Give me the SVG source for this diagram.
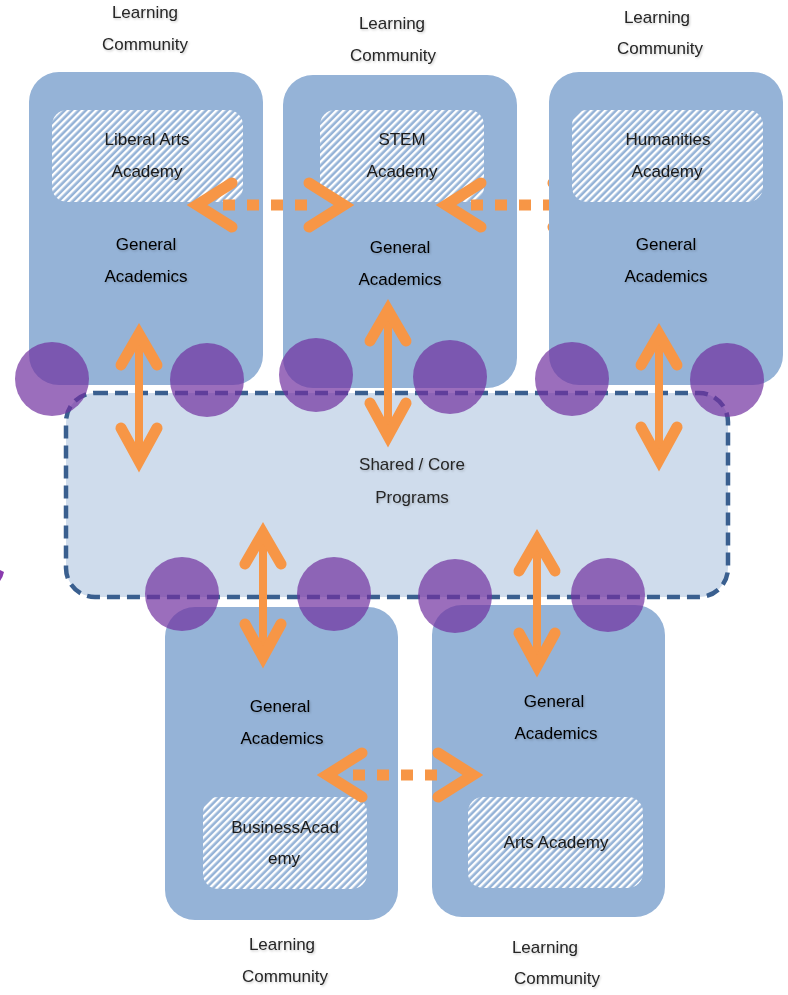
<svg xmlns="http://www.w3.org/2000/svg" width="788" height="995" viewBox="0 0 788 995">
<defs>
<pattern id="hatch" width="5" height="5" patternUnits="userSpaceOnUse" patternTransform="rotate(45)">
<rect width="5" height="5" fill="#95b3d7"/>
<rect width="2.4" height="5" fill="#ffffff"/>
</pattern>
<filter id="sh" x="-20%" y="-40%" width="140%" height="180%">
<feDropShadow dx="1" dy="1.2" stdDeviation="0.9" flood-color="#000" flood-opacity="0.22"/>
</filter>
<clipPath id="clipR"><rect x="0" y="0" width="549" height="995"/></clipPath>
</defs>
<style>
.box{fill:#95b3d7}
.hat{fill:url(#hatch)}
.shared{fill:#cfdcec;stroke:#3a5f8f;stroke-width:4.5;stroke-dasharray:13 7}
.dot{fill:#7030a0;fill-opacity:0.7}
.t{font-family:"Liberation Sans",Arial,sans-serif;font-size:17px;text-anchor:middle;filter:url(#sh)}
.lc{fill:#262626}
.ga{fill:#000}
.ac{fill:#1a1a1a}
.shaft{stroke:#f79646;stroke-width:8;fill:none}
.head{stroke:#f79646;stroke-width:11;fill:none;stroke-linecap:round;stroke-linejoin:miter;stroke-miterlimit:6}
.dash{stroke:#f79646;stroke-width:11;fill:none;stroke-dasharray:12 12}
</style>
<rect width="788" height="995" fill="#ffffff"/>

<g id="lc-liberal">
<rect class="box" x="29" y="72" width="234" height="313" rx="30"/>
<rect class="hat" x="52" y="110" width="191" height="92" rx="15"/>
<text class="t ac" x="147" y="145">Liberal Arts</text>
<text class="t ac" x="147" y="177">Academy</text>
<text class="t ga" x="146" y="250">General</text>
<text class="t ga" x="146" y="282">Academics</text>
<text class="t lc" x="145" y="18">Learning</text>
<text class="t lc" x="145" y="50">Community</text>
</g>

<g id="lc-stem">
<rect class="box" x="283" y="75" width="234" height="313" rx="30"/>
<rect class="hat" x="320" y="110" width="164" height="92" rx="15"/>
<text class="t ac" x="402" y="145">STEM</text>
<text class="t ac" x="402" y="177">Academy</text>
<text class="t ga" x="400" y="253">General</text>
<text class="t ga" x="400" y="285">Academics</text>
<text class="t lc" x="392" y="29">Learning</text>
<text class="t lc" x="393" y="61">Community</text>
</g>

<g id="lc-business">
<rect class="box" x="165" y="607" width="233" height="313" rx="30"/>
<rect class="hat" x="203" y="797" width="164" height="92" rx="15"/>
<text class="t ac" x="285" y="833">BusinessAcad</text>
<text class="t ac" x="284" y="864">emy</text>
<text class="t ga" x="280" y="712">General</text>
<text class="t ga" x="282" y="744">Academics</text>
<text class="t lc" x="282" y="950">Learning</text>
<text class="t lc" x="285" y="982">Community</text>
</g>

<g id="lc-arts">
<rect class="box" x="432" y="605" width="233" height="312" rx="30"/>
<rect class="hat" x="468" y="797" width="175" height="91" rx="15"/>
<text class="t ac" x="556" y="848">Arts Academy</text>
<text class="t ga" x="554" y="707">General</text>
<text class="t ga" x="556" y="739">Academics</text>
<text class="t lc" x="545" y="953">Learning</text>
<text class="t lc" x="557" y="984">Community</text>
</g>

<g id="shared-core">
<rect class="shared" x="66" y="393" width="662" height="204" rx="29"/>
<text class="t lc" x="412" y="470">Shared / Core</text>
<text class="t lc" x="412" y="503">Programs</text>
</g>

<g id="connectors-back" clip-path="url(#clipR)">
<path class="dash" d="M471,205 H560"/>
<path class="head" d="M481,183 L446,205 L481,227"/>
<path class="head" d="M553,183 L588,205 L553,227"/>
</g>

<g id="lc-humanities">
<rect class="box" x="549" y="72" width="234" height="313" rx="30"/>
<rect class="hat" x="572" y="110" width="191" height="92" rx="15"/>
<text class="t ac" x="668" y="145">Humanities</text>
<text class="t ac" x="667" y="177">Academy</text>
<text class="t ga" x="666" y="250">General</text>
<text class="t ga" x="666" y="282">Academics</text>
<text class="t lc" x="657" y="23">Learning</text>
<text class="t lc" x="660" y="54">Community</text>
</g>

<g id="junctions">
<circle class="dot" cx="52" cy="379" r="37"/>
<circle class="dot" cx="207" cy="380" r="37"/>
<circle class="dot" cx="316" cy="375" r="37"/>
<circle class="dot" cx="450" cy="377" r="37"/>
<circle class="dot" cx="572" cy="379" r="37"/>
<circle class="dot" cx="727" cy="380" r="37"/>
<circle class="dot" cx="182" cy="594" r="37"/>
<circle class="dot" cx="334" cy="594" r="37"/>
<circle class="dot" cx="455" cy="596" r="37"/>
<circle class="dot" cx="608" cy="595" r="37"/>
<path d="M0,570 L4,572 Q3,577 0,581 Z" fill="#8a3aae"/>
</g>

<g id="connectors">
<!-- horizontal dashed double arrows -->
<path class="dash" d="M223,205 H310"/>
<path class="head" d="M232,183 L197,205 L232,227"/>
<path class="head" d="M309,183 L344,205 L309,227"/>

<path class="dash" d="M353,775 H440"/>
<path class="head" d="M362,753 L327,775 L362,797"/>
<path class="head" d="M438,753 L473,775 L438,797"/>

<!-- vertical double arrows -->
<path class="shaft" d="M139,335 V460"/>
<path class="head" d="M121,365 L139,334 L157,365"/>
<path class="head" d="M121,428 L139,461 L157,428"/>

<path class="shaft" d="M388,311 V435"/>
<path class="head" d="M370,341 L388,310 L406,341"/>
<path class="head" d="M370,403 L388,436 L406,403"/>

<path class="shaft" d="M659,335 V459"/>
<path class="head" d="M641,365 L659,334 L677,365"/>
<path class="head" d="M641,427 L659,460 L677,427"/>

<path class="shaft" d="M263,534 V656"/>
<path class="head" d="M245,564 L263,533 L281,564"/>
<path class="head" d="M245,624 L263,657 L281,624"/>

<path class="shaft" d="M537,541 V665"/>
<path class="head" d="M519,571 L537,540 L555,571"/>
<path class="head" d="M519,633 L537,666 L555,633"/>
</g>
</svg>
